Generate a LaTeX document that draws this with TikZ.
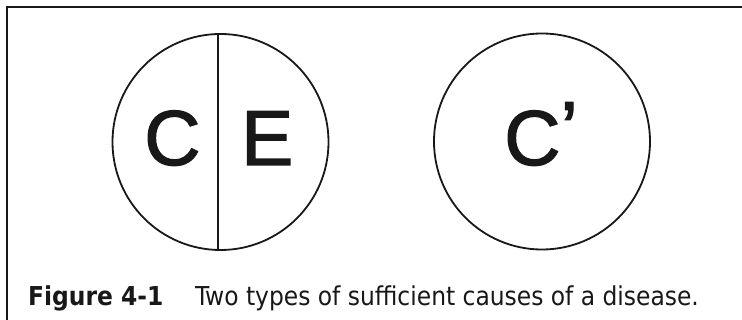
\documentclass[tikz,border=0pt]{standalone}
\usepackage{fontspec}
\setmainfont{DejaVu Sans Condensed}
\newfontfamily\letterfont[FakeBold=1.6]{Liberation Sans}
\usetikzlibrary{positioning}
\definecolor{scink}{RGB}{24,24,24}
\tikzset{
  frameline/.style={draw=scink, line width=1.6pt},
  cause/.style={
    circle, draw=scink, line width=1.8pt,
    minimum size=216pt, inner sep=0pt
  },
  divider/.style={draw=scink, line width=1.9pt},
  letter/.style={font=\fontsize{78}{78}\selectfont\letterfont, text=scink, inner sep=0pt, anchor=base west},
  capt/.style={font=\fontsize{26}{30}\selectfont, text=scink, inner sep=0pt, anchor=base west}
}
\begin{document}
\begin{tikzpicture}[x=1pt,y=-1pt]
  \useasboundingbox (0,0) rectangle (742,320);
  \draw[frameline] (7,320) -- (7,7) -- (742,7);
  % two sufficient causes
  \node[cause] (sc1) at (220.5,142) {};
  \node[cause] (sc2) at (542,141.5) {};
  \draw[divider] ([xshift=-2.5pt]sc1.north) -- ([xshift=-2.5pt]sc1.south);
  \node[letter] (cc) at (144,165) {C};
  \node[letter] (ce) at (241,165) {E};
  \node[letter] (cp) at (504,165) {C\raisebox{9pt}{’}};
  % caption
  \node[capt] (figlbl) at (28,306) {\textbf{Figure 4-1}};
  \node[capt] (figtxt) at (195,306) {Two types of sufficient causes of a disease.};
\end{tikzpicture}
\end{document}
